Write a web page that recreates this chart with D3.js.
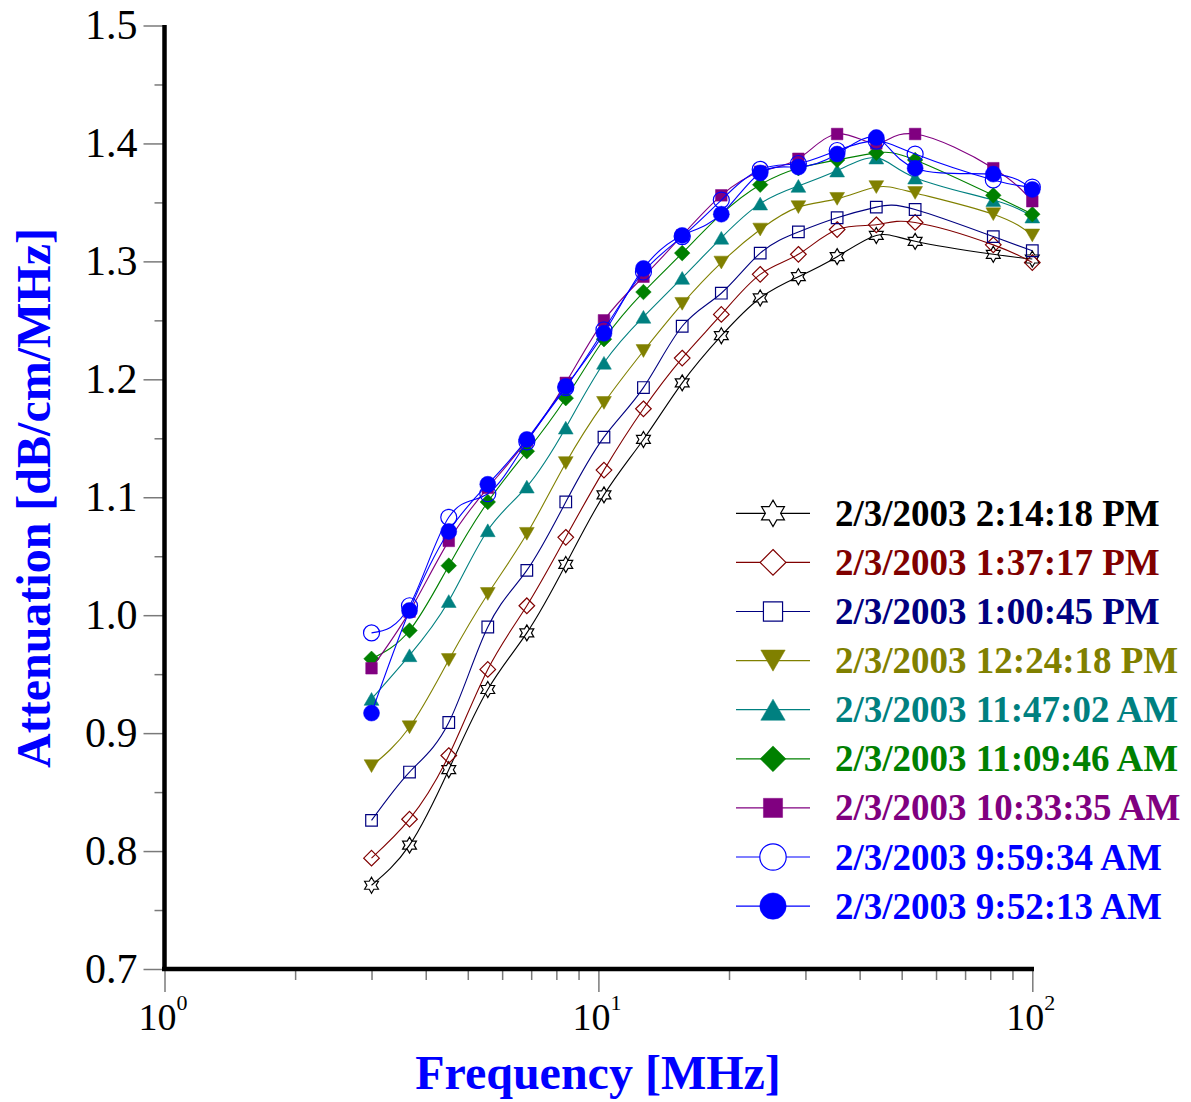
<!DOCTYPE html>
<html>
<head>
<meta charset="utf-8">
<script src="https://cdn.jsdelivr.net/npm/d3@7"></script>
<style>
  html, body { margin: 0; padding: 0; background: #fff; }
  svg { display: block; }
  text { font-family: "Liberation Serif", "Times New Roman", serif; }
</style>
</head>
<body>
<div id="chart"></div>
<script>
// frequency points [MHz]
const freqs = [3, 3.67, 4.52, 5.56, 6.84, 8.41, 10.3, 12.7, 15.6, 19.2, 23.6, 28.9, 35.5, 43.7, 53.7, 81.3, 100];

// attenuation [dB/cm/MHz], one array per measurement
const att_1414 = [0.771, 0.805, 0.869, 0.937, 0.985, 1.043, 1.102, 1.149, 1.197, 1.237, 1.269, 1.287, 1.304, 1.322, 1.317, 1.306, 1.302];
const att_1337 = [0.794, 0.827, 0.881, 0.954, 1.008, 1.066, 1.123, 1.175, 1.218, 1.255, 1.289, 1.306, 1.327, 1.331, 1.333, 1.314, 1.299];
const att_1300 = [0.826, 0.867, 0.909, 0.990, 1.038, 1.096, 1.151, 1.193, 1.245, 1.273, 1.307, 1.325, 1.337, 1.346, 1.344, 1.321, 1.309];
const att_1224 = [0.872, 0.905, 0.962, 1.018, 1.069, 1.129, 1.180, 1.224, 1.264, 1.299, 1.327, 1.346, 1.353, 1.363, 1.358, 1.340, 1.322];
const att_1147 = [0.929, 0.966, 1.012, 1.072, 1.109, 1.159, 1.214, 1.253, 1.286, 1.320, 1.349, 1.364, 1.377, 1.388, 1.371, 1.352, 1.338];
const att_1109 = [0.963, 0.987, 1.042, 1.096, 1.139, 1.184, 1.234, 1.274, 1.307, 1.340, 1.365, 1.379, 1.386, 1.392, 1.386, 1.356, 1.340];
const att_1033 = [0.955, 1.003, 1.063, 1.108, 1.148, 1.197, 1.250, 1.287, 1.322, 1.356, 1.376, 1.387, 1.408, 1.400, 1.408, 1.379, 1.351];
const att_0959 = [0.985, 1.008, 1.083, 1.103, 1.147, 1.193, 1.242, 1.291, 1.321, 1.352, 1.378, 1.383, 1.394, 1.402, 1.391, 1.369, 1.363];
const att_0952 = [0.917, 1.004, 1.071, 1.111, 1.149, 1.194, 1.239, 1.294, 1.322, 1.340, 1.375, 1.380, 1.391, 1.405, 1.379, 1.374, 1.361];

const seriesNames = ["2/3/2003 2:14:18 PM", "2/3/2003 1:37:17 PM", "2/3/2003 1:00:45 PM", "2/3/2003 12:24:18 PM",
  "2/3/2003 11:47:02 AM", "2/3/2003 11:09:46 AM", "2/3/2003 10:33:35 AM", "2/3/2003 9:59:34 AM", "2/3/2003 9:52:13 AM"];
const seriesValues = [att_1414, att_1337, att_1300, att_1224, att_1147, att_1109, att_1033, att_0959, att_0952];
const seriesColors = ["#000000", "#800000", "#000080", "#808000", "#008080", "#008000", "#800080", "#0000ff", "#0000ff"];
const seriesMarkers = ["star", "diamond", "square", "triDown", "triUp", "diamond", "square", "circle", "circle"];
const seriesFilled = [false, false, false, true, true, true, true, false, true];

const yTicks = [0.7, 0.8, 0.9, 1.0, 1.1, 1.2, 1.3, 1.4, 1.5];
const yMinor = [0.75, 0.85, 0.95, 1.05, 1.15, 1.25, 1.35, 1.45];
const xTicks = [1, 10, 100];
const xMinor = [2, 3, 4, 5, 6, 7, 8, 9, 20, 30, 40, 50, 60, 70, 80, 90];

let width = 1191, height = 1102;

let svg = d3.select("#chart").append("svg")
  .attr("width", width)
  .attr("height", height);

let x = d3.scaleLog().domain([1, 100]).range([164.5, 1032.3]);
let y = d3.scaleLinear().domain([0.7, 1.5]).range([969, 25.5]);

// marker shapes, s = size factor (1 in the plot)
function markerPath(type, s) {
  let p = d3.path();
  if (type == "star") {
    let R = 8 * s, r = R / Math.sqrt(3);
    for (let i = 0; i < 12; i++) {
      let a = -Math.PI / 2 + i * Math.PI / 6;
      let rr = i % 2 == 0 ? R : r;
      if (i == 0) p.moveTo(rr * Math.cos(a), rr * Math.sin(a));
      else p.lineTo(rr * Math.cos(a), rr * Math.sin(a));
    }
    p.closePath();
  } else if (type == "diamond") {
    let h = 7.8 * s;
    p.moveTo(0, -h); p.lineTo(h, 0); p.lineTo(0, h); p.lineTo(-h, 0); p.closePath();
  } else if (type == "square") {
    let h = 5.8 * s;
    p.rect(-h, -h, 2 * h, 2 * h);
  } else if (type == "triDown") {
    let w = 7.4 * s, hh = 6.4 * s;
    p.moveTo(-w, -hh); p.lineTo(w, -hh); p.lineTo(0, hh); p.closePath();
  } else if (type == "triUp") {
    let w = 7.4 * s, hh = 6.4 * s;
    p.moveTo(-w, hh); p.lineTo(w, hh); p.lineTo(0, -hh); p.closePath();
  } else if (type == "circle") {
    let r = 8 * s;
    p.arc(0, 0, r, 0, 2 * Math.PI);
  }
  return p.toString();
}

// axes ticks (gray), drawn before the thick axis lines
let ga = svg.append("g");
let xMajor = ga.append("g").attr("transform", "translate(0,969)")
  .call(d3.axisBottom(x).tickValues(xTicks).tickSize(23).tickFormat(""));
ga.append("g").attr("transform", "translate(0,969)")
  .call(d3.axisBottom(x).tickValues(xMinor).tickSize(11).tickFormat(""));
ga.append("g").attr("transform", "translate(164.5,0)")
  .call(d3.axisLeft(y).tickValues(yTicks).tickSize(21).tickPadding(6).tickFormat(d3.format(".1f")));
ga.append("g").attr("transform", "translate(164.5,0)")
  .call(d3.axisLeft(y).tickValues(yMinor).tickSize(10).tickFormat(""));

ga.selectAll(".domain").remove();
ga.selectAll(".tick line").attr("stroke", "#7a7a7a").attr("stroke-width", 1.5);
ga.selectAll(".tick text")
  .attr("fill", "#000")
  .style("font-family", "'Liberation Serif', serif")
  .style("font-size", "42px");

// x labels 10^n
xMajor.selectAll(".tick").each(function (d) {
  let t = d3.select(this).append("text")
    .attr("x", -2)
    .attr("y", 61)
    .attr("text-anchor", "middle")
    .attr("fill", "#000")
    .style("font-size", "38px");
  t.append("tspan").text("10");
  t.append("tspan").attr("dy", -20).style("font-size", "22px").text(Math.round(Math.log10(d)));
});

// thick axis lines
svg.append("line").attr("x1", 164.5).attr("x2", 164.5).attr("y1", 25).attr("y2", 971)
  .attr("stroke", "#000").attr("stroke-width", 4.5);
svg.append("line").attr("x1", 162).attr("x2", 1034).attr("y1", 969).attr("y2", 969)
  .attr("stroke", "#000").attr("stroke-width", 4.5);

// series
let line = d3.line()
  .x(d => x(d[0]))
  .y(d => y(d[1]))
  .curve(d3.curveNatural);

seriesValues.forEach((vals, i) => {
  let pts = freqs.map((f, j) => [f, vals[j]]);
  let g = svg.append("g").attr("class", "series");
  g.append("path")
    .attr("d", line(pts))
    .attr("fill", "none")
    .attr("stroke", seriesColors[i])
    .attr("stroke-width", 1.1);
  g.selectAll("path.mk")
    .data(pts).enter()
    .append("path")
    .attr("class", "mk")
    .attr("transform", d => "translate(" + x(d[0]) + "," + y(d[1]) + ")")
    .attr("d", markerPath(seriesMarkers[i], 1))
    .attr("fill", seriesFilled[i] ? seriesColors[i] : "none")
    .attr("stroke", seriesColors[i])
    .attr("stroke-width", seriesFilled[i] ? 0.5 : 1.2);
});

// legend
let legend = svg.append("g").attr("transform", "translate(736,513.3)");
seriesNames.forEach((name, i) => {
  let row = legend.append("g").attr("transform", "translate(0," + (i * 49.1) + ")");
  row.append("line").attr("x1", 0).attr("x2", 74).attr("y1", 0).attr("y2", 0)
    .attr("stroke", seriesColors[i]).attr("stroke-width", 1.2);
  row.append("path")
    .attr("transform", "translate(37,0)")
    .attr("d", markerPath(seriesMarkers[i], 1.65))
    .attr("fill", seriesFilled[i] ? seriesColors[i] : "#fff")
    .attr("stroke", seriesColors[i])
    .attr("stroke-width", seriesFilled[i] ? 0.5 : 1.2);
  row.append("text")
    .attr("x", 99)
    .attr("y", 12.5)
    .attr("fill", seriesColors[i])
    .style("font-size", "37px")
    .style("font-weight", "bold")
    .text(name);
});

// axis titles
svg.append("text")
  .attr("transform", "translate(50,498) rotate(-90)")
  .attr("text-anchor", "middle")
  .attr("fill", "#0000ff")
  .style("font-size", "48px")
  .style("font-weight", "bold")
  .text("Attenuation [dB/cm/MHz]");

svg.append("text")
  .attr("x", 598)
  .attr("y", 1089)
  .attr("text-anchor", "middle")
  .attr("fill", "#0000ff")
  .style("font-size", "48px")
  .style("font-weight", "bold")
  .text("Frequency [MHz]");
</script>
</body>
</html>
